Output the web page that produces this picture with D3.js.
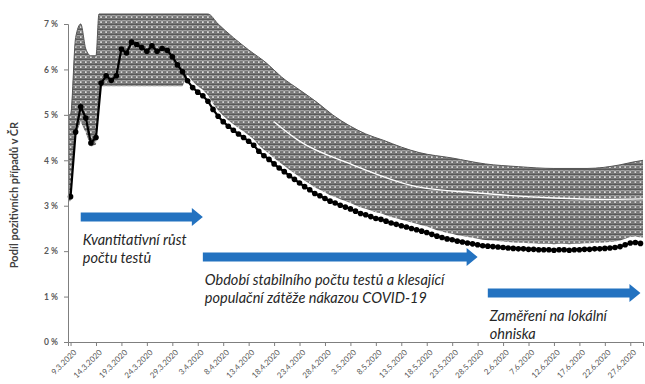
<!DOCTYPE html>
<html>
<head>
<meta charset="utf-8">
<script src="https://cdn.jsdelivr.net/npm/d3@7"></script>
<style>
  body { margin: 0; background: #fff; }
  text { font-family: Lato, "Open Sans", sans-serif; }
</style>
</head>
<body>
<div id="chart"></div>
<script>
// daily share of positive tests (%), from 9.3.2020
const startDate = '9.3.2020';
const positiveShare = [
  3.2, 4.62, 5.18, 4.93, 4.38, 4.5, 5.7, 5.86, 5.76, 5.86,
  6.45, 6.36, 6.6, 6.55, 6.48, 6.4, 6.52, 6.4, 6.46, 6.42,
  6.28, 6.1, 5.95, 5.75, 5.6, 5.5, 5.42, 5.3, 5.12, 4.97,
  4.85, 4.75, 4.66, 4.58, 4.5, 4.42, 4.33, 4.2, 4.1, 4.02,
  3.92, 3.83, 3.75, 3.66, 3.58, 3.5, 3.42, 3.35, 3.27, 3.22,
  3.16, 3.1, 3.06, 3.01, 2.97, 2.93, 2.88, 2.83, 2.8, 2.76,
  2.72, 2.7, 2.66, 2.62, 2.59, 2.56, 2.53, 2.5, 2.47, 2.44,
  2.41, 2.37, 2.33, 2.3, 2.27, 2.25, 2.22, 2.2, 2.18, 2.16,
  2.14, 2.12, 2.11, 2.1, 2.09, 2.08, 2.07, 2.06, 2.05, 2.05,
  2.04, 2.04, 2.03, 2.03, 2.03, 2.02, 2.03, 2.03, 2.02, 2.03,
  2.03, 2.04, 2.04, 2.05, 2.05, 2.06, 2.07, 2.08, 2.1, 2.14,
  2.18, 2.19, 2.17
];

// grey band of the confidence intervals: [day index, %]
const bandTop = [
  [-0.3, 5.0], [0, 5.0], [1, 6.7], [2, 7.0], [3, 6.45], [4, 6.3], [5, 6.3], [5.6, 7.22],
  [27, 7.22], [29, 7.0], [32, 6.7], [35, 6.43], [38.5, 6.14], [41.5, 5.83], [45, 5.55],
  [48.5, 5.27], [51.5, 5.0], [55, 4.75], [58, 4.58], [61.5, 4.44], [65, 4.29],
  [68.5, 4.17], [75, 4.05], [81.5, 3.92], [88, 3.86], [95, 3.82], [101.5, 3.82],
  [108, 3.9], [110.5, 3.96], [112.5, 4.0]
];
// lower edge of the band where it lies below the line
const bandFloor = [
  [0, 3.1], [1, 4.55], [2, 4.85], [3, 4.6], [4, 4.3], [5, 4.35],
  [6, 5.63], [7, 5.63], [8, 5.63], [9, 5.63], [10, 5.63], [11, 5.63], [12, 5.63],
  [13, 5.63], [14, 5.63], [15, 5.63], [16, 5.63], [17, 5.63], [18, 5.63], [19, 5.63],
  [20, 5.63], [21, 5.63], [22, 5.63]
];
// thin white split inside the band
const bandSplit = [
  [40, 4.85], [45, 4.42], [55, 3.92], [68, 3.42], [80, 3.28], [95, 3.17], [105, 3.14], [112.5, 3.15]
];

const yTicks = [0, 1, 2, 3, 4, 5, 6, 7];
const xTickLabels = [
  '9.3.2020', '14.3.2020', '19.3.2020', '24.3.2020', '29.3.2020', '3.4.2020',
  '8.4.2020', '13.4.2020', '18.4.2020', '23.4.2020', '28.4.2020', '3.5.2020',
  '8.5.2020', '13.5.2020', '18.5.2020', '23.5.2020', '28.5.2020', '2.6.2020',
  '7.6.2020', '12.6.2020', '17.6.2020', '22.6.2020', '27.6.2020'
];

const yTitle = 'Podíl pozitivních případů v ČR';
const phases = [
  {from: '11.3.2020', to: '4.4.2020', y: 2.75, lines: ['Kvantitativní růst', 'počtu testů']},
  {from: '4.4.2020', to: '28.5.2020', y: 1.87, lines: ['Období stabilního počtu testů a klesající', 'populační zátěže  nákazou COVID-19']},
  {from: '30.5.2020', to: '29.6.2020', y: 1.08, lines: ['Zaměření na lokální', 'ohniska']}
];

const parseDate = d3.timeParse('%d.%m.%Y');
const start = parseDate(startDate);
const dayOf = i => d3.timeHour.offset(start, i * 24);

const width = 645, height = 384;
const margin = {top: 24, right: 2, bottom: 42, left: 68};
const plotBottom = height - margin.bottom;

const svg = d3.select('#chart').append('svg')
  .attr('width', width)
  .attr('height', height);

// scales
const x = d3.scaleTime()
  .domain([dayOf(-0.5), dayOf(positiveShare.length - 0.5)])
  .range([margin.left, width - margin.right]);
const y = d3.scaleLinear().domain([0, 7]).range([plotBottom, margin.top]);

// pattern that imitates the dense error bar markers
const defs = svg.append('defs');
const pat = defs.append('pattern')
  .attr('id', 'bars')
  .attr('patternUnits', 'userSpaceOnUse')
  .attr('x', x(dayOf(0)) - 2.5)
  .attr('y', y(7.22))
  .attr('width', x(dayOf(1)) - x(dayOf(0)))
  .attr('height', 5);
pat.append('rect').attr('width', 10).attr('height', 5).attr('fill', '#7a7a7a');
pat.append('line').attr('x1', 0).attr('x2', 10).attr('y1', 0.4).attr('y2', 0.4)
  .attr('stroke', '#3a3a3a').attr('stroke-width', 0.8);
pat.append('line').attr('x1', 0).attr('x2', 10).attr('y1', 1.3).attr('y2', 1.3)
  .attr('stroke', '#c8c8c8').attr('stroke-width', 0.6);
pat.append('circle').attr('cx', 2.5).attr('cy', 3.1).attr('r', 1.3)
  .attr('fill', '#fff').attr('stroke', '#333').attr('stroke-width', 0.5);

// band: pattern below the top edge, then white below the lower edge
const topArea = d3.area()
  .x(d => x(dayOf(d[0])))
  .y0(plotBottom)
  .y1(d => y(d[1]))
  .curve(d3.curveMonotoneX);

svg.append('path')
  .datum(bandTop)
  .attr('fill', 'url(#bars)')
  .attr('d', topArea);

svg.append('path')
  .datum(bandTop)
  .attr('fill', 'none')
  .attr('stroke', '#555')
  .attr('stroke-width', 1)
  .attr('d', d3.line().x(d => x(dayOf(d[0]))).y(d => y(d[1])).curve(d3.curveMonotoneX));

const floorMap = new Map(bandFloor);
const lowerEdge = positiveShare.map((v, i) => {
  const f = floorMap.get(i);
  return [i, f !== undefined && f < v ? y(f) : y(v) - 6];
});
lowerEdge.unshift([-0.6, lowerEdge[0][1]]);
lowerEdge.push([positiveShare.length - 0.2, lowerEdge[lowerEdge.length - 1][1]]);

svg.append('path')
  .datum(lowerEdge)
  .attr('fill', '#fff')
  .attr('d', d3.area()
    .x(d => x(dayOf(d[0])))
    .y0(plotBottom + 1)
    .y1(d => d[1]));

svg.append('path')
  .datum(bandSplit)
  .attr('fill', 'none')
  .attr('stroke', '#fff')
  .attr('stroke-width', 1.4)
  .attr('d', d3.line().x(d => x(dayOf(d[0]))).y(d => y(d[1])).curve(d3.curveMonotoneX));

// main series
svg.append('path')
  .datum(positiveShare)
  .attr('fill', 'none')
  .attr('stroke', '#000')
  .attr('stroke-width', 2.2)
  .attr('d', d3.line().x((d, i) => x(dayOf(i))).y(d => y(d)));

svg.append('g')
  .selectAll('circle')
  .data(positiveShare)
  .enter()
  .append('circle')
  .attr('cx', (d, i) => x(dayOf(i)))
  .attr('cy', d => y(d))
  .attr('r', 2.8)
  .attr('fill', '#000');

// phase arrows with captions
const arrows = svg.append('g');
phases.forEach(p => {
  const x0 = x(parseDate(p.from)), x1 = x(parseDate(p.to));
  const yc = y(p.y);
  arrows.append('path')
    .attr('fill', '#2372c0')
    .attr('d', `M${x0},${yc - 4.5}H${x1 - 11}V${yc - 9}L${x1},${yc}L${x1 - 11},${yc + 9}V${yc + 4.5}H${x0}Z`);
  p.lines.forEach((t, k) => {
    arrows.append('text')
      .attr('x', x0 + 2)
      .attr('y', yc + 28 + k * 18)
      .attr('font-size', '14.5px')
      .attr('font-style', 'italic')
      .attr('fill', '#262626')
      .text(t);
  });
});

// axes
const yAxis = svg.append('g')
  .attr('transform', `translate(${margin.left},0)`)
  .call(d3.axisLeft(y).tickValues(yTicks).tickSize(4).tickFormat(d => d + ' %'));
yAxis.select('.domain').attr('stroke', '#7f7f7f');
yAxis.selectAll('.tick line').attr('stroke', '#7f7f7f');
yAxis.selectAll('.tick text')
  .attr('x', -10)
  .attr('font-size', '8.5px')
  .attr('font-weight', 'bold')
  .attr('fill', '#595959')
  .style('font-family', 'Lato, sans-serif');

const xAxis = svg.append('g')
  .attr('transform', `translate(0,${plotBottom})`)
  .call(d3.axisBottom(x).tickValues(xTickLabels.map(parseDate)).tickSize(4)
    .tickFormat((d, i) => xTickLabels[i]));
xAxis.select('.domain').attr('stroke', '#7f7f7f');
xAxis.selectAll('.tick line').attr('stroke', '#7f7f7f');
xAxis.selectAll('.tick text')
  .attr('text-anchor', 'end')
  .attr('transform', 'translate(4,9) rotate(-45)')
  .attr('x', 0)
  .attr('y', 0)
  .attr('dy', '0.35em')
  .attr('font-size', '8px')
  .attr('fill', '#595959')
  .style('font-family', 'Lato, sans-serif');

svg.append('text')
  .attr('transform', `translate(18,${(margin.top + plotBottom) / 2 + 12}) rotate(-90)`)
  .attr('text-anchor', 'middle')
  .attr('font-size', '11px')
  .attr('font-weight', 'bold')
  .attr('fill', '#404040')
  .text(yTitle);
</script>
</body>
</html>
